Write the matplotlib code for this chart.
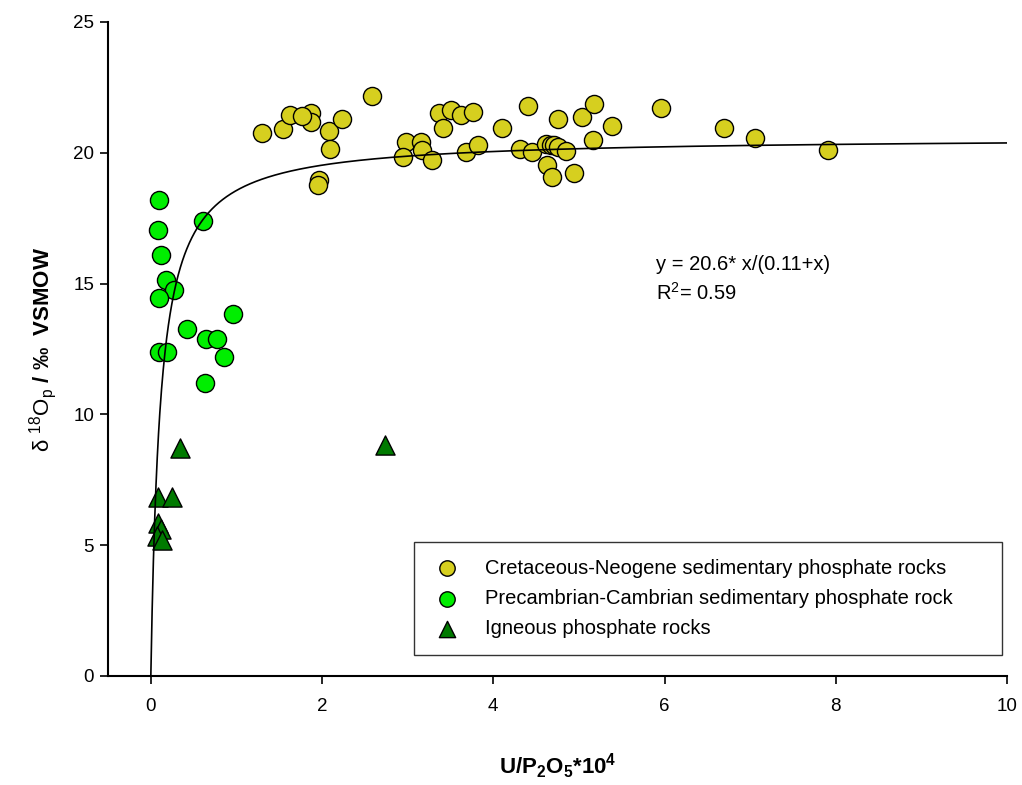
import matplotlib
matplotlib.use('Agg')
import matplotlib.pyplot as plt
import numpy as np

plt.rcParams['font.family'] = ['Liberation Sans', 'DejaVu Sans']
plt.rcParams['mathtext.fontset'] = 'custom'
plt.rcParams['mathtext.rm'] = 'Liberation Sans'
plt.rcParams['mathtext.it'] = 'Liberation Sans'
plt.rcParams['mathtext.bf'] = 'Liberation Sans:bold'

# Cretaceous-Neogene sedimentary phosphate rocks
cn_x = [1.30, 1.54, 1.63, 1.87, 1.87, 1.76, 2.08, 2.09, 2.23, 2.58, 1.97, 1.95,
        2.98, 2.95, 3.16, 3.17, 3.28, 3.37, 3.51, 3.62, 3.76, 3.41, 3.68, 3.82,
        4.10, 4.41, 4.31, 4.45, 4.62, 4.67, 4.71, 4.76, 4.85, 4.63, 4.69, 4.94,
        4.76, 5.04, 5.18, 5.39, 5.16, 5.96, 6.70, 7.06, 7.91]
cn_y = [20.76, 20.91, 21.44, 21.52, 21.18, 21.41, 20.83, 20.15, 21.29, 22.17, 18.96, 18.77,
        20.41, 19.84, 20.41, 20.11, 19.72, 21.52, 21.64, 21.44, 21.56, 20.95, 20.03, 20.30,
        20.95, 21.79, 20.15, 20.03, 20.34, 20.30, 20.30, 20.22, 20.07, 19.53, 19.08, 19.23,
        21.29, 21.37, 21.87, 21.02, 20.49, 21.71, 20.95, 20.57, 20.11]

# Precambrian-Cambrian sedimentary phosphate rock
pc_x = [0.09, 0.08, 0.12, 0.18, 0.27, 0.09, 0.61, 0.42, 0.64, 0.77, 0.85, 0.96, 0.10, 0.19, 0.63]
pc_y = [18.2, 17.05, 16.1, 15.15, 14.75, 14.45, 17.4, 13.25, 12.9, 12.9, 12.2, 13.85, 12.4, 12.4, 11.2]

# Igneous phosphate rocks
ig_x = [0.34, 2.73, 0.08, 0.25, 0.08, 0.12, 0.07, 0.13]
ig_y = [8.7, 8.83, 6.85, 6.85, 5.85, 5.6, 5.35, 5.2]

# fit: y = a*x/(b+x)
fit_a = 20.6
fit_b = 0.11

fig = plt.figure(figsize=(10.22, 7.85), dpi=100)
ax = fig.add_axes([0.1057, 0.1389, 0.8796, 0.8331])

ax.scatter(cn_x, cn_y, s=170, c='#d6cf1f', edgecolors='black', linewidths=1.0,
           label='Cretaceous-Neogene sedimentary phosphate rocks', zorder=2)
ax.scatter(pc_x, pc_y, s=170, c='#00ee00', edgecolors='black', linewidths=1.0,
           label='Precambrian-Cambrian sedimentary phosphate rock', zorder=2)
ax.scatter(ig_x, ig_y, s=190, marker='^', c='#007a00', edgecolors='black', linewidths=1.0,
           label='Igneous phosphate rocks', zorder=2)

xf = np.linspace(0, 10, 2000)
ax.plot(xf, fit_a * xf / (fit_b + xf), color='black', lw=1.2, zorder=3)

ax.text(5.9, 15.52, 'y = 20.6* x/(0.11+x)', fontsize=14.5, va='baseline')
ax.text(5.9, 14.37, r'R$^{2}$= 0.59', fontsize=14.5, va='baseline')

ax.set_xlim(-0.5, 10)
ax.set_ylim(0, 25)
ax.set_xticks([0, 2, 4, 6, 8, 10])
ax.set_yticks([0, 5, 10, 15, 20, 25])
ax.spines['top'].set_visible(False)
ax.spines['right'].set_visible(False)
ax.spines['left'].set_linewidth(1.5)
ax.spines['bottom'].set_linewidth(1.5)
ax.tick_params(direction='out', length=6, width=1.2, labelsize=13.5)
ax.tick_params(axis='x', pad=10)
ax.tick_params(axis='y', pad=4)

ax.set_xlabel(r'$\mathbf{U/P_2O_5{*}10^4}$', fontsize=16, labelpad=26)
ax.set_ylabel(r'$\mathrm{\delta\ ^{18}O_p}$ $\mathbf{/\ ‰\ \ VSMOW}$', fontsize=16, labelpad=10)

leg = ax.legend(loc='lower left', bbox_to_anchor=(0.340, 0.032, 0.654, 0.174), mode='expand',
                borderaxespad=0, fontsize=14.5, frameon=True, fancybox=False, edgecolor='black',
                borderpad=0.85, handlelength=1.6, handletextpad=1.1,
                markerscale=0.85, labelspacing=0.55)
leg.get_frame().set_linewidth(1.0)

fig.savefig('out.png', dpi=100)
